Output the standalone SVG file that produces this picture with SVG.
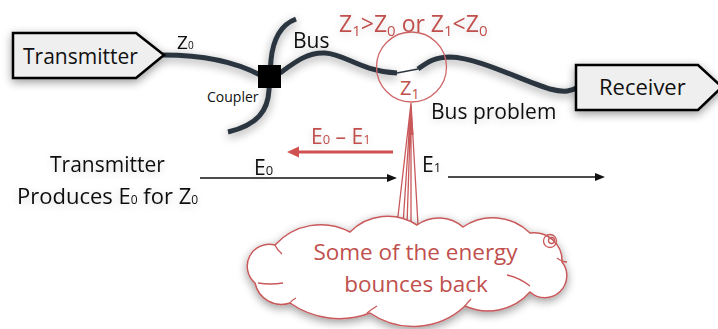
<svg xmlns="http://www.w3.org/2000/svg" width="718" height="329" viewBox="0 0 718 329">
<defs>
<style>
text{font-family:"Open Sans","Liberation Sans",sans-serif;}
.blk{fill:#111;}
.red{fill:#c0504d;}
.box{fill:#efefef;stroke:#000;stroke-width:2.5;stroke-linejoin:miter;}
.cable{fill:none;stroke:#2b3641;stroke-width:5;stroke-linecap:butt;}
.rl{stroke:#c9585a;stroke-width:1.3;fill:none;}
</style>
<filter id="sh" x="-20%" y="-30%" width="140%" height="170%">
<feGaussianBlur in="SourceAlpha" stdDeviation="5"/>
<feOffset dx="0" dy="3"/>
<feComponentTransfer><feFuncA type="linear" slope="0.4"/></feComponentTransfer>
<feMerge><feMergeNode/><feMergeNode in="SourceGraphic"/></feMerge>
</filter>
<filter id="tsh" x="-20%" y="-50%" width="140%" height="200%">
<feGaussianBlur in="SourceAlpha" stdDeviation="4"/>
<feOffset dx="0" dy="2"/>
<feComponentTransfer><feFuncA type="linear" slope="0.18"/></feComponentTransfer>
<feMerge><feMergeNode/><feMergeNode in="SourceGraphic"/></feMerge>
</filter>
</defs>
<rect width="718" height="329" fill="#ffffff"/>

<g id="connectors">
<g filter="url(#sh)">
<path class="cable" d="M163,55 C200,55 232,60 260,75"/>
<path class="cable" d="M280,73 C295,62 308,52 325,53 C345,54 360,71 397,73"/>
<path class="cable" d="M418,69 C428,62 435,57 450,57 C480,58 520,80 550,89 C565,93 572,91 578,87"/>
<path class="cable" d="M296,19 C280,25 273,40 271,60 L269,90 C268,110 258,125 228,132"/>
</g>
<path d="M397,73 L418,69" stroke="#2b3641" stroke-width="1.5" fill="none"/>
<g id="red-arrow">
<line x1="393" y1="152" x2="296" y2="152" stroke="#cf5050" stroke-width="3"/>
<polygon points="287,152 299,146.5 299,157.5" fill="#cf5050"/>
</g>
<g id="e0-arrow">
<line x1="200" y1="178" x2="390" y2="178" stroke="#111" stroke-width="1.5"/>
<polygon points="397,178 387,174 387,182" fill="#111"/>
</g>
<g id="e1-arrow">
<line x1="448" y1="177" x2="598" y2="177" stroke="#111" stroke-width="1.5"/>
<polygon points="605,177 595,173 595,181" fill="#111"/>
</g>
<g id="callout-lines">
<path class="rl" d="M411,103 L397,225 M411,103 L403,225 M411,103 L407,225 M411,103 L411,225 M411,103 L418,225"/>
<polygon points="411,103 408.5,135 413.5,135" fill="#c9585a"/>
</g>
</g>

<g id="transmitter">
<polygon class="box" points="13,33 136,33 164,55 136,78 13,78" filter="url(#sh)"/>
<text x="23" y="64" font-size="21" class="blk">Transmitter</text>
</g>

<g id="coupler">
<rect x="258" y="65" width="23" height="23" fill="#000"/>
<text x="207" y="102" font-size="14" class="blk">Coupler</text>
</g>

<g id="receiver">
<polygon class="box" points="576,65 698,65 722,87 698,110 576,110" filter="url(#sh)"/>
<text x="599" y="95" font-size="22" class="blk">Receiver</text>
</g>

<g id="bus-problem">
<circle cx="411.5" cy="67" r="35" fill="none" stroke="#d0686a" stroke-width="1.3"/>
<text x="400" y="95" font-size="20" class="red">Z<tspan font-size="14" dy="4">1</tspan></text>
<text x="431" y="119" font-size="21" class="blk" filter="url(#tsh)">Bus problem</text>
</g>

<g id="labels" filter="url(#tsh)">
<text x="177" y="49" font-size="19" class="blk">Z<tspan font-size="10">0</tspan></text>
<text x="293" y="48" font-size="21" class="blk">Bus</text>
<text x="339" y="32" font-size="23" class="red">Z<tspan font-size="15" dy="4">1</tspan><tspan dy="-4">&gt;Z</tspan><tspan font-size="15" dy="4">0</tspan><tspan dy="-4"> or Z</tspan><tspan font-size="15" dy="4">1</tspan><tspan dy="-4">&lt;Z</tspan><tspan font-size="15" dy="4">0</tspan></text>
<text x="311" y="144" font-size="21" class="red">E<tspan font-size="13">0</tspan> – E<tspan font-size="13">1</tspan></text>
<text x="254" y="175" font-size="21" class="blk">E<tspan font-size="13">0</tspan></text>
<text x="422" y="172" font-size="21" class="blk">E<tspan font-size="13">1</tspan></text>
<text x="50" y="172" font-size="21" class="blk">Transmitter</text>
<text x="17" y="204" font-size="22" class="blk">Produces E<tspan font-size="12">0</tspan> for Z<tspan font-size="12">0</tspan></text>
</g>

<g id="cloud">
<path filter="url(#sh)" fill="#ffffff" stroke="#c9585a" stroke-width="1.5" d="M255,283 A22,22 0 0 1 275,245 A62,62 0 0 1 350,232 A53,53 0 0 1 417,225 A37,37 0 0 1 463,227 A53,53 0 0 1 530,233 A28,28 0 0 1 562,262 A22,22 0 0 1 530,292 A56,56 0 0 1 465,306 A76,76 0 0 1 370,313 A86,86 0 0 1 290,303 A27,27 0 0 1 255,283 Z"/>
<path class="rl" d="M258,283 Q270,285 283,283 M275,245 Q277,250 282,254 M507,275 Q520,278 530,286 M557,258 Q562,262 567,262 M367,313 Q372,309 377,306 M465,306 Q468,302 471,299 M290,303 Q292,300 296,298"/>
<circle cx="550" cy="241" r="6.5" class="rl"/>
<circle cx="551.5" cy="240.5" r="3" class="rl"/>
<text x="415.5" y="260" font-size="22.5" text-anchor="middle" class="red">Some of the energy</text>
<text x="416" y="292" font-size="22.5" text-anchor="middle" class="red">bounces back</text>
</g>
</svg>
